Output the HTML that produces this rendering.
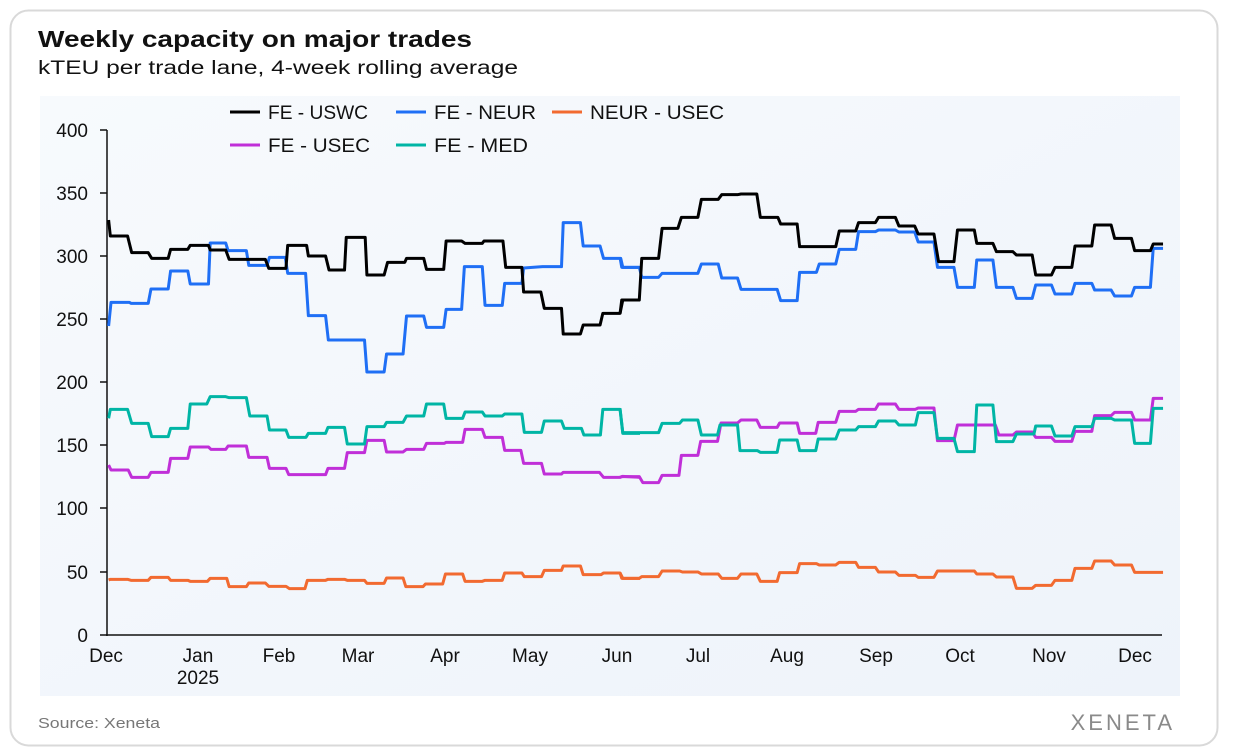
<!DOCTYPE html>
<html><head><meta charset="utf-8"><style>
body{margin:0;background:#fff;font-family:"Liberation Sans",sans-serif;}
</style></head><body>
<svg width="1235" height="756" xmlns="http://www.w3.org/2000/svg" style="display:block">
<defs><linearGradient id="bg" x1="0" y1="0" x2="1" y2="1"><stop offset="0" stop-color="#f7fafd"/><stop offset="1" stop-color="#eef3fa"/></linearGradient></defs>
<rect x="0" y="0" width="1235" height="756" fill="#fff"/>
<rect x="10.5" y="10.5" width="1207" height="735" rx="18" fill="#fff" stroke="#d9d9d9" stroke-width="2"/>
<rect x="40" y="96" width="1140" height="600" fill="url(#bg)"/>
<text x="38" y="47" font-size="23" font-weight="bold" fill="#111" textLength="434" lengthAdjust="spacingAndGlyphs">Weekly capacity on major trades</text>
<text x="38" y="74" font-size="19" fill="#111" textLength="480" lengthAdjust="spacingAndGlyphs">kTEU per trade lane, 4-week rolling average</text>
<g font-size="19" fill="#111" text-anchor="end">
<text x="88" y="137">400</text><text x="88" y="200">350</text><text x="88" y="263">300</text><text x="88" y="326">250</text><text x="88" y="389">200</text><text x="88" y="452">150</text><text x="88" y="515">100</text><text x="88" y="579">50</text><text x="88" y="642">0</text>
</g>
<g stroke="#111" stroke-width="1.5">
<line x1="107" y1="130" x2="107" y2="636"/><line x1="106" y1="635" x2="1162" y2="635"/>
<line x1="100" y1="130" x2="107" y2="130"/><line x1="100" y1="193" x2="107" y2="193"/><line x1="100" y1="256" x2="107" y2="256"/><line x1="100" y1="319" x2="107" y2="319"/><line x1="100" y1="382" x2="107" y2="382"/><line x1="100" y1="445" x2="107" y2="445"/><line x1="100" y1="508" x2="107" y2="508"/><line x1="100" y1="572" x2="107" y2="572"/><line x1="100" y1="635" x2="107" y2="635"/>
</g>
<g font-size="19" fill="#111" text-anchor="middle">
<text x="106" y="662">Dec</text><text x="198" y="662">Jan</text><text x="198" y="684">2025</text><text x="279" y="662">Feb</text><text x="358" y="662">Mar</text><text x="445" y="662">Apr</text><text x="530" y="662">May</text><text x="617" y="662">Jun</text><text x="698" y="662">Jul</text><text x="787" y="662">Aug</text><text x="876" y="662">Sep</text><text x="960" y="662">Oct</text><text x="1049" y="662">Nov</text><text x="1135" y="662">Dec</text>
</g>
<g font-size="19" fill="#111">
<line x1="230" y1="112" x2="260" y2="112" stroke="#000" stroke-width="3"/><text x="268" y="119" textLength="100" lengthAdjust="spacingAndGlyphs">FE - USWC</text>
<line x1="396" y1="112" x2="426" y2="112" stroke="#1f6ff5" stroke-width="3"/><text x="434" y="119" textLength="102" lengthAdjust="spacingAndGlyphs">FE - NEUR</text>
<line x1="552" y1="112" x2="582" y2="112" stroke="#f26a30" stroke-width="3"/><text x="590" y="119" textLength="134" lengthAdjust="spacingAndGlyphs">NEUR - USEC</text>
<line x1="230" y1="145" x2="260" y2="145" stroke="#c02fd8" stroke-width="3"/><text x="268" y="152" textLength="102" lengthAdjust="spacingAndGlyphs">FE - USEC</text>
<line x1="396" y1="145" x2="426" y2="145" stroke="#00b5a5" stroke-width="3"/><text x="434" y="152" textLength="94" lengthAdjust="spacingAndGlyphs">FE - MED</text>
</g>
<g fill="none" stroke-width="3" stroke-linejoin="round">
<g transform="translate(100,160) scale(0.3444,0.3333)">
<polyline vector-effect="non-scaling-stroke" stroke="#1f6ff5" points="25,498 32,427 85,427 90,430 140,430 148,387 198,387 205,333 255,333 262,372 315,372 320,249 365,249 372,272 425,272 432,316 485,316 492,292 538,292 545,340 597,340 605,467 655,467 663,540 768,540 775,636 825,636 832,582 880,582 890,468 940,468 948,502 998,502 1005,448 1050,448 1058,320 1110,320 1118,436 1168,436 1175,370 1225,370 1230,324 1285,320 1340,320 1345,188 1395,188 1403,258 1452,258 1462,295 1512,295 1518,322 1568,322"/>
<polyline vector-effect="non-scaling-stroke" stroke="#000" points="25,180 30,228 80,228 92,278 140,278 150,295 198,295 205,268 255,268 262,256 315,256 320,270 365,270 375,298 480,298 490,325 540,325 545,256 600,256 605,288 655,288 665,330 710,330 715,232 770,232 775,345 825,345 835,307 885,307 890,295 940,295 948,328 998,328 1005,243 1050,243 1060,250 1110,250 1115,243 1170,243 1178,322 1225,322 1230,396 1280,396 1290,445 1340,445 1345,522 1395,522 1403,495 1452,495 1460,460 1510,460 1518,420 1568,420"/>
</g>
<g transform="translate(620,160) scale(0.3508,0.3333)">
<polyline vector-effect="non-scaling-stroke" stroke="#1f6ff5" points="0,292 5,322 55,322 62,352 110,352 120,340 222,340 232,312 280,312 290,354 335,354 345,388 448,388 458,422 505,422 512,337 560,337 568,312 615,312 625,268 672,268 680,215 728,215 737,210 785,210 795,216 840,216 850,246 895,246 905,322 952,322 962,382 1010,382 1017,300 1063,300 1073,382 1120,382 1130,415 1175,415 1185,375 1230,375 1240,402 1288,402 1297,370 1345,370 1353,390 1400,390 1410,408 1458,408 1467,382 1512,382 1520,265 1548,265"/>
<polyline vector-effect="non-scaling-stroke" stroke="#000" points="0,462 5,420 55,420 62,295 110,295 120,205 165,205 175,172 222,172 232,118 280,118 290,104 335,104 345,102 390,102 400,172 450,172 458,192 505,192 512,260 615,260 625,213 672,213 680,188 728,188 737,172 785,172 795,198 840,198 850,222 895,222 908,305 952,305 962,210 1010,210 1017,250 1063,250 1073,275 1120,275 1130,285 1175,285 1185,345 1230,345 1240,322 1288,322 1297,258 1345,258 1353,195 1400,195 1410,235 1458,235 1467,272 1512,272 1520,252 1548,252"/>
</g>
<g transform="translate(100,380) scale(0.3444,0.3333)">
<polyline vector-effect="non-scaling-stroke" stroke="#f26a30" points="25,600 30,598 80,598 90,601 140,601 148,592 198,592 205,601 255,601 262,604 312,604 320,595 368,595 375,620 425,620 432,609 480,609 490,619 540,619 550,626 595,626 602,601 655,601 662,598 710,598 718,601 768,601 775,610 825,610 832,594 880,594 888,620 938,620 945,612 995,612 1003,582 1053,582 1060,604 1110,604 1118,601 1168,601 1175,579 1225,579 1232,590 1282,590 1290,571 1340,571 1345,558 1395,558 1403,584 1455,584 1462,579 1510,579 1518,595 1568,595"/>
<polyline vector-effect="non-scaling-stroke" stroke="#c02fd8" points="25,255 32,270 82,270 92,292 140,292 148,277 198,277 205,235 255,235 262,201 315,201 322,208 365,208 372,198 425,198 432,232 485,232 492,265 540,265 548,284 655,284 662,265 710,265 718,218 768,218 775,181 825,181 832,216 880,216 890,208 940,208 948,190 1000,190 1005,187 1053,187 1060,148 1110,148 1118,172 1168,172 1175,211 1222,211 1230,250 1282,250 1290,282 1340,282 1345,277 1450,277 1462,292 1510,292 1518,289 1568,292"/>
<polyline vector-effect="non-scaling-stroke" stroke="#00b5a5" points="25,115 30,88 80,88 92,130 140,130 150,170 198,170 205,145 255,145 262,72 310,72 320,50 365,50 375,53 425,53 435,108 485,108 492,150 540,150 548,172 598,172 605,160 655,160 662,142 710,142 718,192 768,192 775,140 825,140 832,127 880,127 890,108 940,108 948,72 998,72 1005,115 1053,115 1060,96 1110,96 1118,108 1168,108 1175,102 1225,102 1232,157 1282,157 1290,123 1340,123 1348,145 1398,145 1405,165 1453,165 1460,88 1510,88 1518,160 1568,160"/>
</g>
<g transform="translate(620,380) scale(0.3508,0.3333)">
<polyline vector-effect="non-scaling-stroke" stroke="#f26a30" points="0,578 5,595 55,595 62,590 110,590 120,573 170,573 178,576 222,576 232,582 280,582 290,595 335,595 345,582 390,582 400,604 448,604 455,578 505,578 512,551 560,551 568,555 615,555 625,547 672,547 680,562 728,562 737,576 785,576 795,586 842,586 850,592 895,592 905,573 1010,573 1017,582 1063,582 1073,591 1120,591 1130,625 1175,625 1185,616 1230,616 1240,601 1288,601 1297,565 1345,565 1353,543 1400,543 1410,555 1458,555 1467,577 1548,577"/>
<polyline vector-effect="non-scaling-stroke" stroke="#c02fd8" points="0,292 5,290 55,290 65,308 110,308 120,286 168,286 175,226 222,226 230,184 278,184 288,129 335,129 345,120 390,120 400,142 448,142 455,129 505,129 512,160 558,160 565,127 615,127 625,94 672,94 680,88 728,88 737,72 785,72 795,88 842,88 850,84 895,84 905,182 952,182 962,135 1070,135 1080,165 1120,165 1130,156 1175,156 1185,172 1230,172 1240,184 1288,184 1297,154 1345,154 1353,107 1400,107 1410,97 1458,97 1467,120 1512,120 1520,55 1548,55"/>
<polyline vector-effect="non-scaling-stroke" stroke="#00b5a5" points="0,85 8,158 110,158 120,130 170,130 178,120 222,120 232,165 278,165 285,135 335,135 342,212 392,212 400,217 448,217 455,180 505,180 512,212 558,212 565,177 615,177 625,150 672,150 680,140 728,140 737,123 785,123 795,135 842,135 850,98 895,98 905,175 952,175 962,215 1010,215 1017,75 1063,75 1073,185 1120,185 1130,162 1180,162 1185,138 1230,138 1240,168 1288,168 1297,140 1345,140 1353,115 1400,115 1410,120 1458,120 1467,190 1512,190 1520,85 1548,85"/>
</g>
</g>
<text x="38" y="728" font-size="15" fill="#777" textLength="122" lengthAdjust="spacingAndGlyphs">Source: Xeneta</text>
<text x="1175" y="730" font-size="22" fill="#8a8a8a" text-anchor="end" letter-spacing="3">XENETA</text>
</svg>
</body></html>
